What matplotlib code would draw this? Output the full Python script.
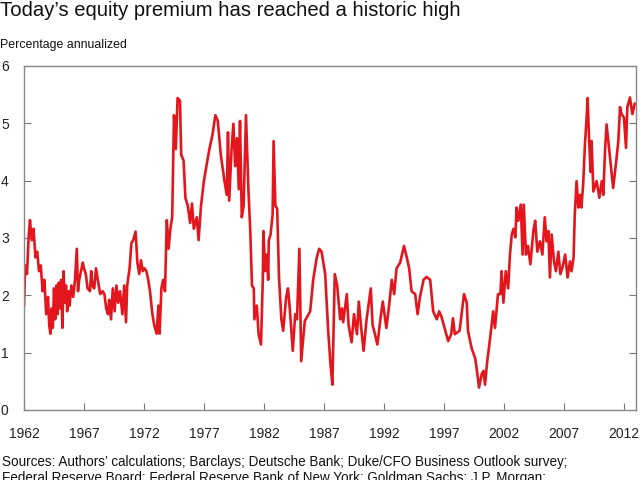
import matplotlib
matplotlib.use("Agg")
import matplotlib.pyplot as plt

plt.rcParams['font.family'] = ['Liberation Sans', 'DejaVu Sans']

# Equity premium, percentage annualized
years = [
    1962.0, 1962.1, 1962.25, 1962.4, 1962.5, 1962.65, 1962.8, 1962.95, 1963.1, 1963.25,
    1963.4, 1963.55, 1963.7, 1963.85, 1964.0, 1964.1, 1964.2, 1964.3, 1964.4, 1964.5,
    1964.6, 1964.7, 1964.8, 1964.9, 1965.0, 1965.1, 1965.2, 1965.3, 1965.4, 1965.5,
    1965.6, 1965.7, 1965.8, 1965.95, 1966.1, 1966.25, 1966.4, 1966.5, 1966.6, 1966.75,
    1966.9, 1967.0, 1967.15, 1967.3, 1967.5, 1967.6, 1967.7, 1967.85, 1968.0, 1968.15,
    1968.35, 1968.55, 1968.7, 1968.85, 1969.0, 1969.1, 1969.25, 1969.4, 1969.55, 1969.7,
    1969.85, 1970.0, 1970.2, 1970.35, 1970.5, 1970.6, 1970.8, 1970.95, 1971.1, 1971.3,
    1971.45, 1971.6, 1971.75, 1971.9, 1972.05, 1972.2, 1972.35, 1972.5, 1972.7, 1972.85,
    1973.05, 1973.2, 1973.3, 1973.45, 1973.6, 1973.75, 1973.9, 1974.05, 1974.2, 1974.35,
    1974.5, 1974.65, 1974.8, 1975.0, 1975.1, 1975.3, 1975.45, 1975.65, 1975.85, 1976.0,
    1976.15, 1976.4, 1976.55, 1976.75, 1977.0, 1977.2, 1977.45, 1977.7, 1977.95, 1978.15,
    1978.4, 1978.7, 1978.9, 1979.0, 1979.1, 1979.3, 1979.45, 1979.6, 1979.75, 1979.9,
    1980.0, 1980.15, 1980.3, 1980.5, 1980.7, 1980.85, 1981.0, 1981.15, 1981.2, 1981.4,
    1981.55, 1981.75, 1981.9, 1981.95, 1982.1, 1982.25, 1982.35, 1982.4, 1982.55, 1982.72,
    1982.8, 1982.95, 1983.1, 1983.25, 1983.45, 1983.6, 1983.85, 1984.0, 1984.15, 1984.4,
    1984.6, 1984.75, 1984.95, 1985.1, 1985.4, 1985.85, 1986.1, 1986.4, 1986.6, 1986.8,
    1987.1, 1987.35, 1987.55, 1987.7, 1987.9, 1988.1, 1988.35, 1988.5, 1988.6, 1988.9,
    1989.05, 1989.3, 1989.5, 1989.75, 1989.9, 1990.1, 1990.3, 1990.55, 1990.9, 1991.05,
    1991.25, 1991.45, 1991.7, 1991.9, 1992.2, 1992.4, 1992.65, 1992.85, 1993.05, 1993.35,
    1993.67, 1993.9, 1994.1, 1994.3, 1994.6, 1994.8, 1995.0, 1995.3, 1995.55, 1995.85,
    1996.1, 1996.4, 1996.6, 1996.8, 1997.05, 1997.35, 1997.6, 1997.75, 1997.9, 1998.3,
    1998.67, 1998.9, 1999.0, 1999.3, 1999.6, 1999.75, 1999.92, 2000.15, 2000.3, 2000.42,
    2000.6, 2000.85, 2001.1, 2001.25, 2001.5, 2001.7, 2001.8, 2001.95, 2002.15, 2002.35,
    2002.5, 2002.65, 2002.8, 2002.95, 2003.05, 2003.2, 2003.4, 2003.55, 2003.65, 2003.83,
    2004.0, 2004.2, 2004.45, 2004.6, 2004.78, 2005.0, 2005.2, 2005.4, 2005.55, 2005.7,
    2005.83, 2005.97, 2006.17, 2006.33, 2006.53, 2006.7, 2006.87, 2007.1, 2007.3, 2007.5,
    2007.63, 2007.8, 2007.9, 2008.05, 2008.2, 2008.33, 2008.45, 2008.6, 2008.75, 2008.9,
    2008.97, 2009.1, 2009.22, 2009.3, 2009.45, 2009.72, 2009.95, 2010.15, 2010.28, 2010.42,
    2010.55, 2010.78, 2010.97, 2011.1, 2011.33, 2011.53, 2011.67, 2011.8, 2012.0, 2012.17,
    2012.28, 2012.5, 2012.7, 2012.9,
]
premium = [
    1.82, 2.52, 2.37, 3.06, 3.31, 2.96, 3.16, 2.66, 2.76, 2.42,
    2.52, 2.07, 2.27, 1.67, 1.97, 1.48, 1.33, 1.77, 1.43, 2.12,
    1.58, 2.17, 1.67, 2.22, 1.77, 2.27, 1.43, 2.42, 1.87, 2.17,
    1.72, 2.07, 1.82, 2.17, 1.97, 2.27, 2.81, 2.07, 2.27, 2.42,
    2.57, 2.47, 2.37, 2.12, 2.07, 2.42, 2.17, 2.12, 2.47, 2.27,
    2.02, 2.07, 2.02, 1.77, 1.67, 1.92, 1.58, 2.12, 1.72, 2.17,
    1.87, 2.07, 1.67, 2.17, 1.53, 2.17, 2.47, 2.91, 2.96, 3.11,
    2.57, 2.37, 2.61, 2.42, 2.47, 2.42, 2.27, 2.07, 1.67, 1.48,
    1.33, 1.82, 1.33, 2.12, 2.27, 2.07, 3.31, 2.81, 3.16, 3.36,
    5.14, 4.55, 5.44, 5.39, 4.45, 4.35, 3.70, 3.56, 3.26, 3.60,
    3.16, 3.36, 2.96, 3.56, 4.00, 4.25, 4.55, 4.79, 5.14, 5.04,
    4.45, 4.00, 3.75, 4.84, 3.65, 4.55, 4.99, 4.25, 4.74, 3.85,
    5.04, 3.36, 3.56, 5.14, 3.85, 3.16, 2.17, 2.12, 1.58, 1.82,
    1.32, 1.14, 2.27, 3.12, 2.42, 2.71, 2.27, 2.96, 3.06, 3.41,
    4.69, 3.56, 3.51, 2.32, 1.58, 1.38, 1.97, 2.12, 1.77, 1.03,
    1.67, 1.58, 2.81, 0.85, 1.55, 1.72, 2.27, 2.66, 2.81, 2.76,
    2.37, 1.38, 0.78, 0.44, 2.37, 2.17, 1.58, 1.77, 1.53, 2.02,
    1.48, 1.18, 1.67, 1.32, 1.89, 1.43, 1.03, 1.58, 2.12, 1.48,
    1.32, 1.14, 1.58, 1.89, 1.43, 1.77, 2.27, 2.02, 2.47, 2.57,
    2.86, 2.66, 2.47, 2.07, 2.02, 1.67, 1.97, 2.27, 2.32, 2.27,
    1.72, 1.58, 1.72, 1.62, 1.43, 1.20, 1.32, 1.60, 1.32, 1.38,
    2.02, 1.87, 1.38, 1.08, 0.90, 0.68, 0.39, 0.63, 0.68, 0.44,
    0.84, 1.26, 1.72, 1.43, 2.02, 2.02, 2.42, 1.87, 2.42, 2.12,
    2.71, 3.06, 3.16, 3.01, 3.53, 3.30, 3.58, 2.71, 3.58, 2.71,
    2.86, 2.54, 3.12, 3.30, 2.76, 2.94, 2.71, 3.36, 2.94, 3.12,
    2.31, 3.06, 2.59, 2.42, 2.76, 2.37, 2.48, 2.71, 2.31, 2.59,
    2.42, 2.66, 3.41, 3.99, 3.53, 3.75, 3.53, 3.93, 4.64, 5.14,
    5.44, 4.69, 4.15, 4.69, 3.81, 3.99, 3.70, 3.99, 3.75, 4.52,
    4.98, 4.52, 4.15, 3.87, 4.29, 4.69, 5.28, 5.16, 5.10, 4.57,
    5.28, 5.45, 5.16, 5.34,
]
tick_years = [1962, 1967, 1972, 1977, 1982, 1987, 1992, 1997, 2002, 2007, 2012]
y_ticks = [0, 1, 2, 3, 4, 5, 6]

fig = plt.figure(figsize=(6.4, 4.8), dpi=100)
ax = fig.add_axes([0.0375, 0.146, 0.9562, 0.7167])

ax.plot(years, premium, color='#e3161e', linewidth=1.9)

ax.set_xlim(1962, 2013)
ax.set_ylim(0, 6)
ax.set_xticks(tick_years)
ax.set_xticklabels([str(y) for y in tick_years])
ax.set_yticks(y_ticks)
ax.tick_params(axis='both', direction='in', length=5, width=0.8, color='#777777',
               labelsize=10, colors='#222222')
ax.tick_params(axis='x', pad=12)
ax.tick_params(axis='y', pad=11, right=True)
for side in ['left', 'right', 'top', 'bottom']:
    ax.spines[side].set_color('#888888')
    ax.spines[side].set_linewidth(1.0)

fig.text(0.0, 0.997, "Today\u2019s equity premium has reached a historic high",
         fontsize=14.6, va='top', ha='left', color='#111111')
fig.text(0.0, 1 - 45 / 480, "Percentage annualized", fontsize=8.9,
         va='center', ha='left', color='#111111')
fig.text(0.003, 1 - 462 / 480,
         "Sources: Authors\u2019 calculations; Barclays; Deutsche Bank; Duke/CFO Business Outlook survey;",
         fontsize=9.75, va='center', ha='left', color='#111111')
fig.text(0.003, 1 - 478 / 480,
         "Federal Reserve Board; Federal Reserve Bank of New York; Goldman Sachs; J.P. Morgan;",
         fontsize=9.75, va='center', ha='left', color='#111111')

fig.savefig("out.png", dpi=100)
